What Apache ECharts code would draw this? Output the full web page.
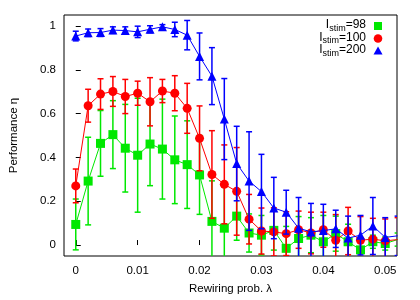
<!DOCTYPE html>
<html><head><meta charset="utf-8">
<script src="https://cdn.jsdelivr.net/npm/echarts@6/dist/echarts.min.js"></script>
<style>html,body{margin:0;padding:0;background:#fff}#c{width:420px;height:300px}</style>
</head><body><div id="c"></div>
<script>
const lambdas = [0, 0.002, 0.004, 0.006, 0.008, 0.01, 0.012, 0.014, 0.016, 0.018, 0.02, 0.022, 0.024, 0.026, 0.028, 0.03, 0.032, 0.034, 0.036, 0.038, 0.04, 0.042, 0.044, 0.046, 0.048, 0.05, 0.052];

const eta98  = [0.094, 0.292, 0.464, 0.504, 0.442, 0.41, 0.461, 0.438, 0.389, 0.367, 0.32, 0.108, 0.077, 0.132, 0.055, 0.045, 0.067, -0.015, 0.03, 0.045, 0.015, 0.052, 0.015, -0.022, 0.015, 0.007, 0.025];
const err98  = [0.116, 0.2, 0.15, 0.155, 0.2, 0.26, 0.19, 0.228, 0.2, 0.2, 0.18, 0.185, 0.19, 0.11, 0.087, 0.09, 0.09, 0.1, 0.1, 0.08, 0.12, 0.08, 0.08, 0.04, 0.03, 0.03, 0.03];

const eta100 = [0.27, 0.636, 0.689, 0.701, 0.678, 0.693, 0.654, 0.703, 0.693, 0.624, 0.487, 0.322, 0.277, 0.245, 0.118, 0.064, 0.06, 0.052, 0.07, 0.055, 0.07, 0.022, 0.064, 0.022, 0.027, 0.019, 0.025];
const err100 = [0.077, 0.075, 0.07, 0.068, 0.078, 0.055, 0.11, 0.053, 0.08, 0.114, 0.148, 0.2, 0.18, 0.2, 0.113, 0.105, 0.11, 0.1, 0.085, 0.095, 0.08, 0.117, 0.108, 0.108, 0.095, 0.1, 0.1];

const eta200 = [0.954, 0.969, 0.970, 0.981, 0.979, 0.973, 0.985, 0.996, 0.984, 0.958, 0.861, 0.771, 0.575, 0.372, 0.292, 0.244, 0.169, 0.15, 0.077, 0.06, 0.066, 0.074, 0.032, 0.045, 0.087, 0.035, 0.042];
const err200 = [0.022, 0.017, 0.018, 0.015, 0.017, 0.026, 0.016, 0.01, 0.033, 0.067, 0.107, 0.13, 0.185, 0.17, 0.225, 0.17, 0.14, 0.1, 0.14, 0.13, 0.12, 0.085, 0.1, 0.09, 0.13, 0.09, 0.09];

const seriesNames = ['98', '100', '200'];
const xTitle = 'Rewiring prob. \u03bb';
const yTitle = 'Performance \u03b7';

const FONT = '"Liberation Sans", Arial, Helvetica, sans-serif';
const colors = ['#00e800', '#ff0000', '#0000ff'];
const symbols = ['rect', 'circle', 'triangle'];
const symSizes = [9, 9, 9];

function pts(vals) { return lambdas.map((x, i) => [x, vals[i]]); }
function bars(vals, errs) { return lambdas.map((x, i) => [x, vals[i] - errs[i], vals[i] + errs[i]]); }

function errRender(color) {
  return function (params, api) {
    const x = api.value(0), lo = api.value(1), hi = api.value(2);
    const pH = api.coord([x, hi]), pL = api.coord([x, lo]);
    const w = 3;
    const st = { stroke: color, lineWidth: 1.5 };
    return { type: 'group', children: [
      { type: 'line', shape: { x1: pH[0], y1: pH[1], x2: pL[0], y2: pL[1] }, style: st },
      { type: 'line', shape: { x1: pH[0] - w, y1: pH[1], x2: pH[0] + w, y2: pH[1] }, style: st },
      { type: 'line', shape: { x1: pL[0] - w, y1: pL[1], x2: pL[0] + w, y2: pL[1] }, style: st }
    ]};
  };
}

const sets = [[eta98, err98], [eta100, err100], [eta200, err200]];
const series = [];
sets.forEach((s, k) => {
  series.push({
    type: 'custom', name: 'e' + k, renderItem: errRender(colors[k]), data: bars(s[0], s[1]),
    encode: { x: 0, y: [1, 2] }, clip: true, z: 2 + 2 * k, silent: true
  });
  series.push({
    type: 'line', name: seriesNames[k], data: pts(s[0]), symbol: symbols[k], symbolSize: symSizes[k],
    showSymbol: true, clip: true, z: 3 + 2 * k, silent: true, animation: false,
    lineStyle: { color: colors[k], width: 1 }, itemStyle: { color: colors[k] }
  });
});

const legendY = [26, 38.5, 51];
const graphic = [];
seriesNames.forEach((n, k) => {
  graphic.push({
    type: 'text', x: 366, y: legendY[k] - 7,
    style: {
      text: '{a|I}{s|stim}{a|=' + n + '}', align: 'right', verticalAlign: 'top', fill: '#000',
      rich: {
        a: { fontSize: 12, lineHeight: 13, verticalAlign: 'top', fontFamily: FONT, fill: '#000' },
        s: { fontSize: 9, lineHeight: 10, padding: [5, 0, 0, 0], verticalAlign: 'top', fontFamily: FONT, fill: '#000' }
      }
    }
  });
});
graphic.push({ type: 'rect', shape: { x: 374, y: legendY[0] - 4, width: 8, height: 8 }, style: { fill: colors[0] } });
graphic.push({ type: 'circle', shape: { cx: 378, cy: legendY[1], r: 4.3 }, style: { fill: colors[1] } });
graphic.push({ type: 'polygon', shape: { points: [[378, legendY[2] - 4.5], [382.5, legendY[2] + 3.5], [373.5, legendY[2] + 3.5]] }, style: { fill: colors[2] } });

const chart = echarts.init(document.getElementById('c'), null, { renderer: 'canvas' });
chart.setOption({
  animation: false,
  backgroundColor: '#fff',
  grid: { left: 61, right: 23, top: 15, bottom: 41, show: true, borderColor: '#000', borderWidth: 1, backgroundColor: 'transparent' },
  xAxis: {
    type: 'value', min: -0.0019, max: 0.0519, splitNumber: 5,
    name: xTitle, nameLocation: 'middle', nameGap: 27,
    nameTextStyle: { fontFamily: FONT, fontSize: 11.5, color: '#000' },
    axisLine: { show: false }, splitLine: { show: false },
    axisTick: { inside: true, length: 5, lineStyle: { color: '#000' } },
    axisLabel: { showMinLabel: false, showMaxLabel: false, fontFamily: FONT, fontSize: 11.5, color: '#000', margin: 9 }
  },
  yAxis: {
    type: 'value', min: -0.05, max: 1.05, splitNumber: 5,
    name: yTitle, nameLocation: 'middle', nameGap: 44, nameRotate: 90,
    nameTextStyle: { fontFamily: FONT, fontSize: 11.5, color: '#000' },
    axisLine: { show: false }, splitLine: { show: false },
    axisTick: { inside: true, length: 5, lineStyle: { color: '#000' } },
    axisLabel: { showMinLabel: false, showMaxLabel: false, fontFamily: FONT, fontSize: 11.5, color: '#000', margin: 8 }
  },
  graphic: graphic,
  series: series
});
</script></body></html>
